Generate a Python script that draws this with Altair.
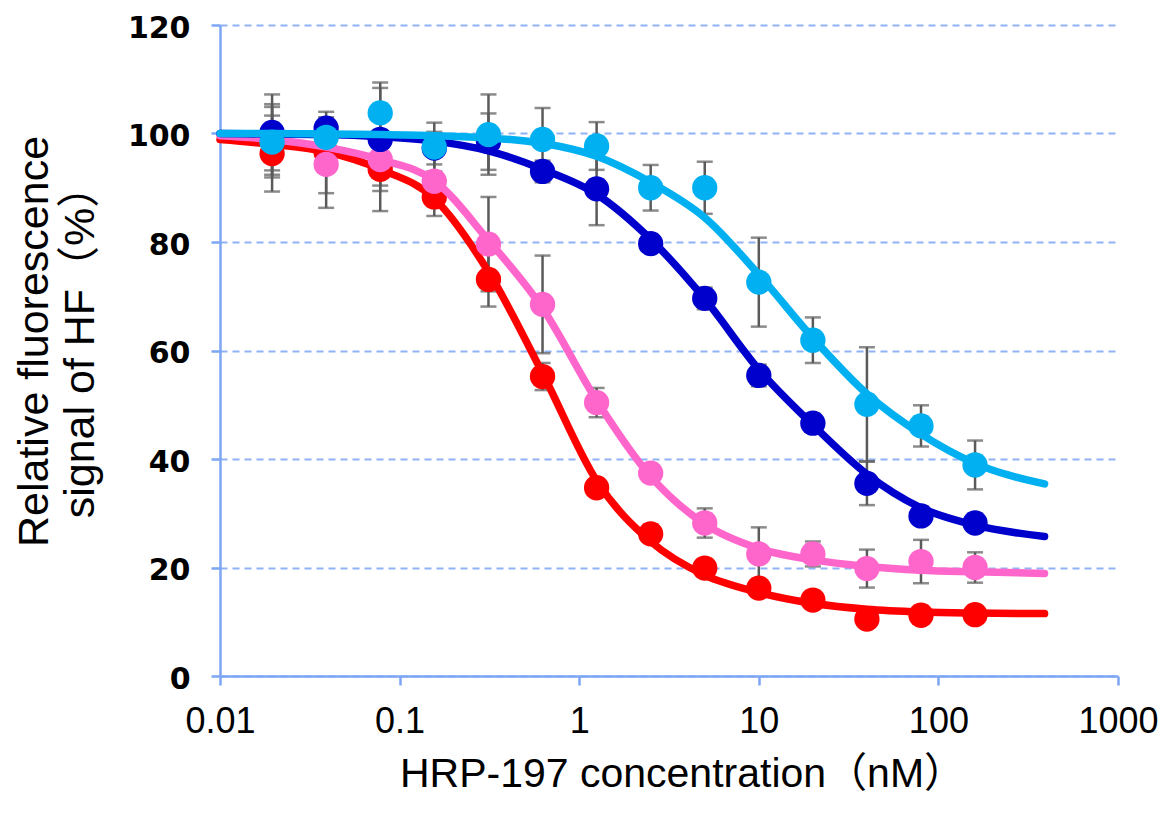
import altair as alt
import pandas as pd

# ---------------- data ----------------
conc = [0.0195, 0.039, 0.078, 0.156, 0.3125, 0.625, 1.25, 2.5, 5, 10, 20, 40, 80, 160]

series = ["S1", "S2", "S3", "S4"]
colors = ["#FF0000", "#FF66CC", "#0000CC", "#00B0F0"]

red_vals = [96.3, 96.5, 93.4, 88.3, 73.1, 55.2, 34.7, 26.2, 19.9, 16.2, 14.0, 10.5, 11.2, 11.3]
red_err = [7.0, 7.5, 3.0, 3.5, 5.0, 2.5, 1.5, 1.5, 1.5, 1.5, 1.0, 1.0, 1.0, 1.0]

pink_vals = [98.9, 94.3, 95.2, 91.2, 79.6, 68.5, 50.4, 37.4, 28.2, 22.5, 22.5, 19.8, 21.1, 20.0]
pink_err = [6.5, 8.0, 9.5, 4.6, 8.7, 9.0, 2.7, 1.5, 2.7, 4.9, 2.3, 3.5, 4.0, 2.8]

navy_vals = [100.2, 101.0, 98.9, 97.3, 98.5, 93.0, 89.8, 79.7, 69.6, 55.4, 46.6, 35.5, 29.5, 28.2]
navy_err = [7.0, 2.0, 9.5, 3.0, 5.2, 2.0, 6.7, 1.5, 2.0, 2.0, 1.5, 4.0, 1.5, 1.5]

sky_vals = [98.4, 99.3, 103.8, 97.5, 99.8, 98.9, 97.7, 90.0, 90.0, 72.6, 61.9, 50.1, 46.1, 38.9]
sky_err = [6.5, 3.0, 5.6, 4.5, 7.4, 5.8, 4.4, 4.2, 4.8, 8.2, 4.2, 10.5, 3.8, 4.5]

# fitted curves at these concentrations
curve_x = [0.01, 0.0195, 0.039, 0.078, 0.156, 0.3125, 0.625, 1.25, 2.5, 5, 10, 20, 40, 80, 160, 390]
red_curve = [98.9, 98.0, 96.6, 93.4, 88.0, 74.5, 55.8, 36.0, 24.8, 18.6, 15.4, 13.4, 12.3, 11.8, 11.6, 11.5]
pink_curve = [99.6, 98.9, 97.5, 95.2, 91.3, 80.3, 67.8, 50.8, 36.8, 28.0, 23.5, 21.4, 20.2, 19.5, 19.2, 18.9]
navy_curve = [100.0, 99.9, 99.8, 99.4, 98.6, 96.8, 93.4, 88.8, 80.5, 69.5, 56.5, 46.3, 37.2, 31.0, 27.8, 25.7]
sky_curve = [100.0, 100.0, 99.9, 99.8, 99.6, 99.2, 98.2, 95.8, 91.0, 84.5, 74.0, 62.3, 52.0, 44.6, 39.2, 35.4]

x_ticks = [0.01, 0.1, 1, 10, 100, 1000]
y_ticks = [0, 20, 40, 60, 80, 100, 120]

x_title = "HRP-197 concentration（nM）"
y_title = ["Relative fluorescence", "signal of HF（%）"]

# ---------------- tables ----------------
vals = [red_vals, pink_vals, navy_vals, sky_vals]
errs = [red_err, pink_err, navy_err, sky_err]
curves = [red_curve, pink_curve, navy_curve, sky_curve]

pts = pd.DataFrame(
    [
        {"s": s, "c": c, "v": v, "lo": v - e, "hi": v + e}
        for s, vs, es in zip(series, vals, errs)
        for c, v, e in zip(conc, vs, es)
    ]
)
crv = pd.DataFrame(
    [{"s": s, "c": c, "v": v} for s, cs in zip(series, curves) for c, v in zip(curve_x, cs)]
)

AXIS_BLUE = "#7DA6F4"
TITLE_FONT = "Liberation Sans, Noto Sans CJK JP, sans-serif"

xscale = alt.Scale(type="log", domain=[0.01, 1000])
yscale = alt.Scale(domain=[0, 120])

xaxis = alt.Axis(
    values=x_ticks,
    format="~g",
    grid=False,
    domainColor=AXIS_BLUE,
    domainWidth=2.5,
    tickColor=AXIS_BLUE,
    tickWidth=2.5,
    tickSize=9,
    labelFont="Liberation Sans",
    labelFontSize=36,
    labelColor="#000000",
    labelPadding=19,
    labelFlush=False,
    labelOverlap=False,
    title=x_title,
    titleFont=TITLE_FONT,
    titleFontSize=41,
    titleFontWeight="normal",
    titleColor="#000000",
    titleBaseline="alphabetic",
    titleX=462,
    titleY=110,
    titleAnchor="middle",
)
yaxis = alt.Axis(
    values=y_ticks,
    grid=True,
    gridColor="#8FB1F5",
    gridWidth=2,
    gridDash=[7, 5],
    domainColor=AXIS_BLUE,
    domainWidth=2.5,
    tickColor=AXIS_BLUE,
    tickWidth=2.5,
    tickSize=9,
    labelFont="DejaVu Sans",
    labelFontWeight="bold",
    labelFontSize=30,
    labelColor="#000000",
    labelPadding=21,
    labelOffset=3,
    labelFlush=False,
    labelOverlap=False,
    title=y_title,
    titleFont=TITLE_FONT,
    titleFontSize=43,
    titleFontWeight="normal",
    titleColor="#000000",
    titleAngle=270,
    titleBaseline="top",
    titleAlign="center",
    titleLineHeight=46,
    titleX=-207,
    titleY=316,
)

X = alt.X("c:Q", scale=xscale, axis=xaxis, title=x_title)
Y = alt.Y("v:Q", scale=yscale, axis=yaxis, title=y_title)

ERR_COL = "#5A5A5A"
err_rule = alt.Chart(pts).mark_rule(color=ERR_COL, strokeWidth=2.5).encode(
    x=X, y=alt.Y("lo:Q", scale=yscale, axis=yaxis, title=y_title), y2="hi:Q"
)
cap_lo = alt.Chart(pts).mark_tick(color=ERR_COL, thickness=2.5, size=16, orient="horizontal").encode(
    x=X, y=alt.Y("lo:Q", scale=yscale, axis=yaxis, title=y_title)
)
cap_hi = alt.Chart(pts).mark_tick(color=ERR_COL, thickness=2.5, size=16, orient="horizontal").encode(
    x=X, y=alt.Y("hi:Q", scale=yscale, axis=yaxis, title=y_title)
)

layers = [err_rule, cap_lo, cap_hi]
for s, col in zip(series, colors):
    line = (
        alt.Chart(crv[crv.s == s])
        .mark_line(color=col, strokeWidth=7.5, interpolate="monotone", strokeCap="round")
        .encode(x=X, y=Y)
    )
    dots = (
        alt.Chart(pts[pts.s == s])
        .mark_circle(color=col, size=640, opacity=1)
        .encode(x=X, y=Y)
    )
    layers += [line, dots]

chart = (
    alt.layer(*layers)
    .properties(
        width=898,
        height=651,
        autosize=alt.AutoSizeParams(type="none"),
        padding={"left": 212, "top": 17, "right": 40, "bottom": 128},
        background="#FFFFFF",
    )
    .configure_view(stroke=None)
)

chart.save("out.html", embed_options={"renderer": "svg", "actions": False})
